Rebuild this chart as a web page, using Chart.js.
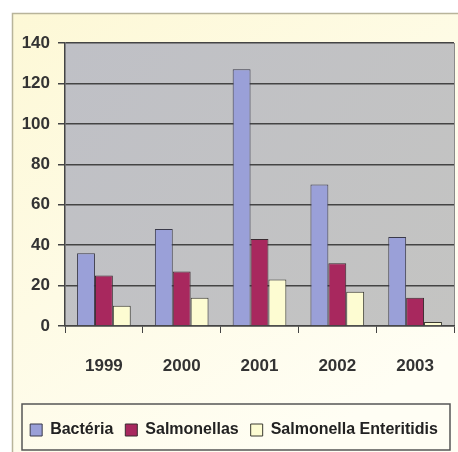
<!DOCTYPE html>
<html>
<head>
<meta charset="utf-8">
<script src="https://cdn.jsdelivr.net/npm/chart.js@4.4.1/dist/chart.umd.min.js"></script>
<style>
  html, body { margin: 0; padding: 0; background: #fff; }
  #wrap { width: 458px; height: 452px; }
</style>
</head>
<body>
<div id="wrap"><canvas id="c" width="458" height="452"></canvas></div>
<script>
const years = ['1999', '2000', '2001', '2002', '2003'];
const bacteria = [36, 48, 127, 70, 44];
const salmonellas = [25, 27, 43, 31, 14];
const enteritidis = [10, 14, 23, 17, 2];

const FONT = "'Liberation Sans', Arial, sans-serif";

// yellow frame + gray plot background + legend border
const frame = {
    id: 'frame',
    beforeDraw(chart) {
        const ctx = chart.ctx;
        const a = chart.chartArea;
        ctx.save();
        const g = ctx.createLinearGradient(12, 13, 300, 452);
        g.addColorStop(0, '#fdf8d6');
        g.addColorStop(1, '#fffef4');
        ctx.fillStyle = g;
        ctx.fillRect(12, 13, 446, 439);
        ctx.strokeStyle = '#b8b49a';
        ctx.lineWidth = 1.5;
        ctx.beginPath();
        ctx.moveTo(12.5, 452);
        ctx.lineTo(12.5, 13.5);
        ctx.lineTo(458, 13.5);
        ctx.stroke();

        const pg = ctx.createLinearGradient(a.left, a.top, a.right, a.bottom);
        pg.addColorStop(0, '#bfc0c6');
        pg.addColorStop(1, '#c4c4c2');
        ctx.fillStyle = pg;
        ctx.fillRect(a.left, a.top, a.right - a.left, a.bottom - a.top);
        ctx.strokeStyle = '#8a8a8a';
        ctx.lineWidth = 1;
        ctx.beginPath();
        ctx.moveTo(a.right + 0.5, a.top);
        ctx.lineTo(a.right + 0.5, a.bottom);
        ctx.stroke();
        ctx.restore();
    },
    afterDraw(chart) {
        const ctx = chart.ctx;
        ctx.save();
        ctx.strokeStyle = '#555';
        ctx.lineWidth = 1.5;
        ctx.strokeRect(22, 404, 428, 46);
        ctx.restore();
    }
};

new Chart(document.getElementById('c'), {
    type: 'bar',
    data: {
        labels: years,
        datasets: [
            { label: 'Bactéria', data: bacteria, backgroundColor: '#9aa0d8', borderColor: '#3a3a4a', borderWidth: 1 },
            { label: 'Salmonellas', data: salmonellas, backgroundColor: '#a8285e', borderColor: '#3a2a30', borderWidth: 1 },
            { label: 'Salmonella Enteritidis', data: enteritidis, backgroundColor: '#fdfcd2', borderColor: '#3a3a30', borderWidth: 1 }
        ]
    },
    options: {
        responsive: false,
        animation: false,
        layout: { padding: { left: 14, right: 4, top: 43, bottom: 4 } },
        datasets: { bar: { categoryPercentage: 0.69, barPercentage: 1 } },
        plugins: {
            tooltip: { enabled: false },
            legend: {
                position: 'bottom',
                labels: {
                    font: { family: FONT, size: 16, weight: 'bold' },
                    color: '#222',
                    boxWidth: 12,
                    boxHeight: 12,
                    padding: 12
                }
            }
        },
        scales: {
            x: {
                afterFit: s => { s.height = 84; },
                grid: { drawOnChartArea: false, drawTicks: true, tickLength: 7, color: '#444', offset: true },
                border: { color: '#444', width: 1.5 },
                ticks: { font: { family: FONT, size: 17, weight: 'bold' }, color: '#333', padding: 23 }
            },
            y: {
                min: 0,
                max: 140,
                afterFit: s => { s.width = 51; },
                ticks: { stepSize: 20, font: { family: FONT, size: 17, weight: 'bold' }, color: '#333', padding: 8 },
                grid: { color: '#444', lineWidth: 1.5, tickLength: 7 },
                border: { color: '#444', width: 1.5 }
            }
        }
    },
    plugins: [frame]
});
</script>
</body>
</html>
